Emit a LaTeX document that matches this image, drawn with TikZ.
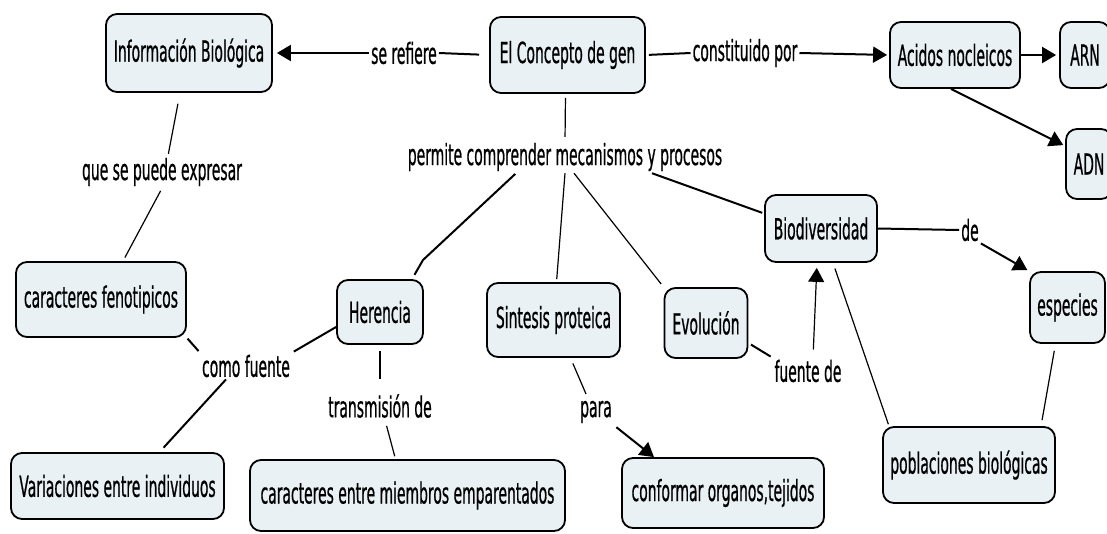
\documentclass[tikz,border=0pt]{standalone}
\usepackage{fontspec}
\setmainfont{DejaVu Sans}[FakeStretch=0.48,FakeBold=0.6]
\usetikzlibrary{arrows.meta}
\definecolor{boxfill}{RGB}{233,241,244}
\tikzset{
  every node/.style={font=\fontsize{29pt}{31pt}\selectfont},
  concept/.style={draw=black, line width=1.8pt, rounded corners=11pt, fill=boxfill, inner sep=0pt, align=center},
  lbl/.style={inner sep=2pt},
  thickline/.style={line width=2pt},
  thinline/.style={line width=1.2pt},
  arr/.style={-{Triangle[length=14pt,width=16pt]}},
}
\begin{document}
\begin{tikzpicture}[x=1pt,y=-1pt]
\useasboundingbox (0,0) rectangle (1107,533);
\clip (0,0) rectangle (1107,533);
% concepts
\node[concept, minimum width=166pt, minimum height=78pt] (info) at (189,53) {Información Biológica};
\node[concept, minimum width=155pt, minimum height=76pt] (gen) at (567.5,55) {El Concepto de gen};
\node[concept, minimum width=130pt, minimum height=66pt] (acidos) at (955,55) {Acidos nocleicos};
\node[concept, minimum width=50pt, minimum height=66pt] (arn) at (1085,55) {ARN};
\node[concept, minimum width=46pt, minimum height=70pt] (adn) at (1089,164) {ADN};
\node[concept, minimum width=170pt, minimum height=75pt] (fenot) at (101,299.5) {caracteres fenotipicos};
\node[concept, minimum width=86pt, minimum height=64pt] (herencia) at (380,312) {Herencia};
\node[concept, minimum width=133pt, minimum height=74pt] (sintesis) at (553.5,320) {Sintesis proteica};
\node[concept, minimum width=83pt, minimum height=70pt] (evol) at (706,323) {Evolución};
\node[concept, minimum width=213pt, minimum height=66pt] (variac) at (117.5,486) {Variaciones entre individuos};
\node[concept, minimum width=315pt, minimum height=71pt] (miembros) at (407.5,495.5) {caracteres entre miembros emparentados};
\node[concept, minimum width=202pt, minimum height=70pt] (conformar) at (723,493) {conformar organos,tejidos};
\node[concept, minimum width=172pt, minimum height=76pt] (pobl) at (969,465) {poblaciones biológicas};
\node[concept, minimum width=75pt, minimum height=71pt] (especies) at (1067.5,307.5) {especies};
\node[concept, minimum width=112pt, minimum height=67pt] (biodiv) at (821,228.5) {Biodiversidad};
% linking phrases
\node[lbl] (l_ser) at (404,53) {se refiere};
\node[lbl] (l_const) at (745,53) {constituido por};
\node[lbl] (l_expr) at (162,172) {que se puede expresar};
\node[lbl] (l_perm) at (565,157) {permite comprender mecanismos y procesos};
\node[lbl] (l_fuente) at (246,366) {como fuente};
\node[lbl] (l_trans) at (380,406) {transmisión de};
\node[lbl] (l_para) at (596,412) {para};
\node[lbl] (l_fde) at (808,371) {fuente de};
\node[lbl] (l_de) at (970,230) {de};
\coordinate (k1) at (423,260);
% connectors
\draw[thickline, shorten >=10pt] (l_ser.east) -- (gen.west);
\draw[thickline, arr, shorten >=4pt] (l_ser.west) -- (info.east);
\draw[thickline, shorten <=3pt] (gen.east) -- (l_const.west);
\draw[thickline, arr, shorten >=2pt] (l_const.east) -- (acidos.west);
\draw[thickline, arr, shorten >=3pt] (acidos.east) -- (arn.west);
\draw[thickline, arr, shorten >=2pt] ([xshift=-4pt]acidos.south) -- ([yshift=18pt]adn.west);
\draw[thinline, shorten <=11pt, shorten >=2pt] ([xshift=-9pt]info.south) -- ([xshift=6pt]l_expr.north);
\draw[thinline, shorten <=3pt, shorten >=4pt] (l_expr.south) -- ([xshift=22pt]fenot.north);
\draw[thinline, shorten <=4pt, shorten >=4pt] ([xshift=-2pt]gen.south) -- (l_perm.north);
\draw[thickline, shorten <=1pt, shorten >=5pt] ([xshift=-49pt]l_perm.south) -- (k1) -- ([xshift=32pt]herencia.north);
\draw[thinline, shorten >=3pt] (l_perm.south) -- ([xshift=3pt]sintesis.north);
\draw[thinline, shorten >=4pt] ([xshift=9pt]l_perm.south) -- (evol.north west);
\draw[thickline, shorten >=2pt] ([xshift=87pt]l_perm.south) -- ([yshift=15pt]biodiv.west);
\draw[thickline, shorten <=1pt, shorten >=2pt] (fenot.south east) -- (l_fuente.north west);
\draw[thickline, shorten <=2pt] (l_fuente.north east) -- ([yshift=-15pt]herencia.west);
\draw[thickline, shorten >=6pt] ([xshift=-20pt]l_fuente.south) -- ([xshift=42pt]variac.north);
\draw[thinline, shorten <=6pt, shorten >=13pt] (herencia.south) -- (l_trans.north);
\draw[thinline, shorten <=6pt, shorten >=3pt] ([xshift=5pt]l_trans.south) -- ([xshift=-12pt]miembros.north);
\draw[thinline, shorten <=6pt, shorten >=5pt] ([xshift=17pt]sintesis.south) -- ([xshift=-8pt]l_para.north);
\draw[thickline, arr, shorten <=3pt] (l_para.south east) -- ([xshift=-69pt]conformar.north);
\draw[thickline, shorten <=3pt, shorten >=2pt] ([yshift=-20pt]evol.east) -- (l_fde.north west);
\draw[thinline, arr, shorten <=8pt, shorten >=5pt] ([xshift=5pt]l_fde.north) -- ([xshift=-4pt]biodiv.south);
\draw[thickline] (biodiv.east) -- (l_de.west);
\draw[thickline, arr, shorten >=2pt] (l_de.south east) -- (especies.north west);
\draw[thinline, shorten <=6pt, shorten >=2pt] ([xshift=12pt]biodiv.south) -- ([xshift=-80pt]pobl.north);
\draw[thinline, shorten <=7pt, shorten >=6pt] ([xshift=-12pt]especies.south) -- ([xshift=72pt]pobl.north);
\end{tikzpicture}
\end{document}
